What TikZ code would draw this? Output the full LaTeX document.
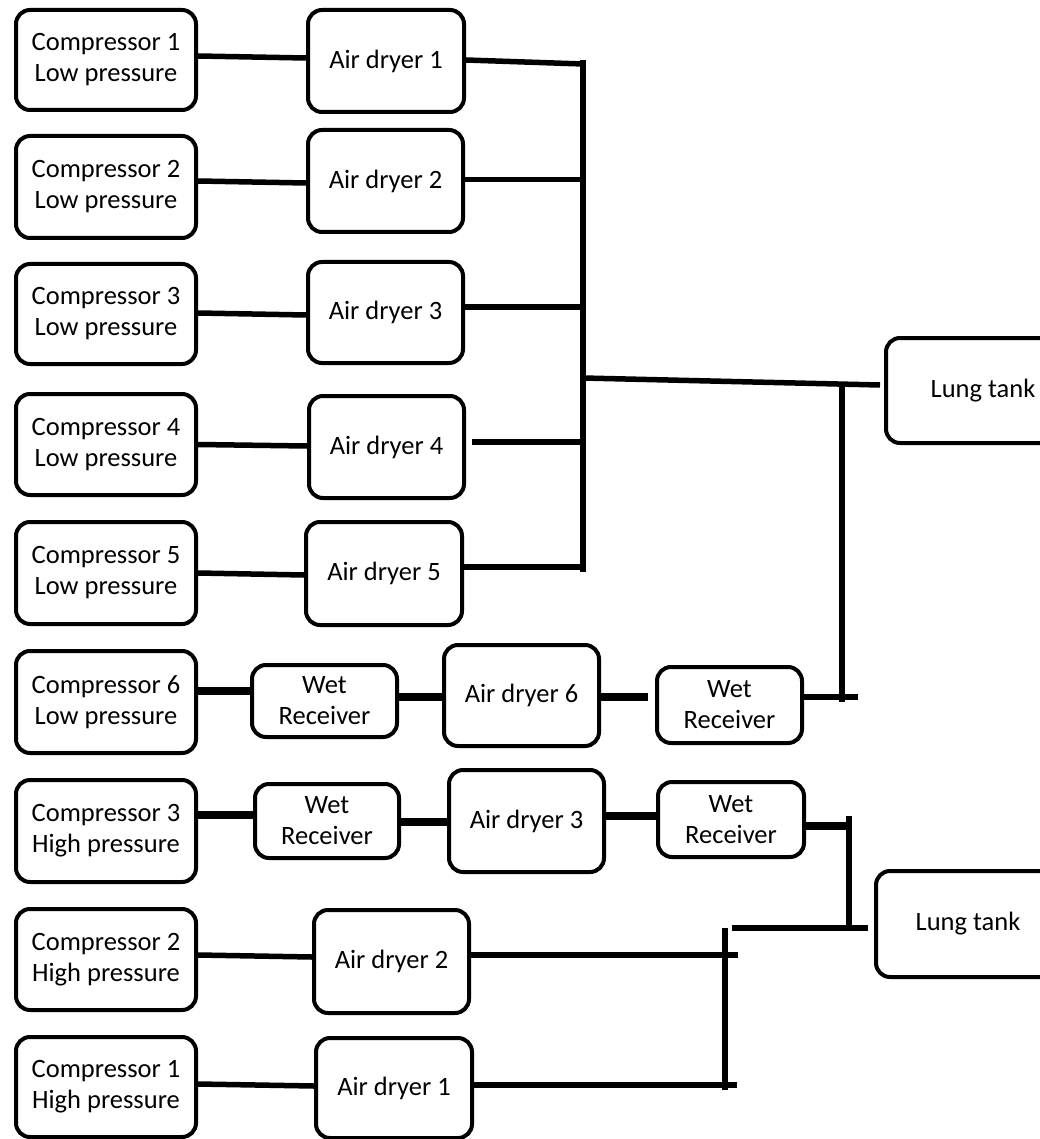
\documentclass[tikz,border=0pt]{standalone}
\usepackage{fontspec}
\setmainfont{Carlito}
\begin{document}
\begin{tikzpicture}[x=1pt,y=-1pt,
  box/.style={draw, line width=4pt, rounded corners=14pt, align=center,
    font=\fontsize{26.5}{31}\selectfont, inner sep=0pt},
  pipe/.style={line width=5.5pt},
  thickpipe/.style={line width=8pt}]
\useasboundingbox (0,0) rectangle (1040,1139);
% compressors
\node[box, minimum width=180pt, minimum height=100pt] (c1) at (106,60) {Compressor 1\\Low pressure};
\node[box, minimum width=180pt, minimum height=102pt] (c2) at (106,187) {Compressor 2\\Low pressure};
\node[box, minimum width=180pt, minimum height=100pt] (c3) at (106,314) {Compressor 3\\Low pressure};
\node[box, minimum width=180pt, minimum height=101pt] (c4) at (106,444.5) {Compressor 4\\Low pressure};
\node[box, minimum width=180pt, minimum height=102pt] (c5) at (106,573) {Compressor 5\\Low pressure};
\node[box, minimum width=180pt, minimum height=102pt] (c6) at (106,702) {Compressor 6\\Low pressure};
\node[box, minimum width=180pt, minimum height=102pt] (ch3) at (106,831) {Compressor 3\\High pressure};
\node[box, minimum width=180pt, minimum height=101pt] (ch2) at (106,959.5) {Compressor 2\\High pressure};
\node[box, minimum width=180pt, minimum height=100pt] (ch1) at (106,1087) {Compressor 1\\High pressure};
% dryers
\node[box, minimum width=156pt, minimum height=102pt] (ad1) at (386,61) {Air dryer 1};
\node[box, minimum width=155pt, minimum height=102pt] (ad2) at (385.5,181) {Air dryer 2};
\node[box, minimum width=155pt, minimum height=101pt] (ad3) at (385.5,312.5) {Air dryer 3};
\node[box, minimum width=155pt, minimum height=102pt] (ad4) at (386.5,447) {Air dryer 4};
\node[box, minimum width=156pt, minimum height=103pt] (ad5) at (384,573.5) {Air dryer 5};
\node[box, minimum width=155pt, minimum height=101pt] (ad6) at (521.5,695.5) {Air dryer 6};
\node[box, minimum width=155pt, minimum height=102pt] (ad7) at (526.5,821) {Air dryer 3};
\node[box, minimum width=155pt, minimum height=103pt] (ad8) at (391.5,961.5) {Air dryer 2};
\node[box, minimum width=156pt, minimum height=100pt] (ad9) at (394,1088) {Air dryer 1};
% wet receivers
\node[box, minimum width=145pt, minimum height=72pt] (wr1) at (324.5,701) {Wet\\Receiver};
\node[box, minimum width=145pt, minimum height=76pt] (wr2) at (729.5,705) {Wet\\Receiver};
\node[box, minimum width=144pt, minimum height=74pt] (wr3) at (327,821) {Wet\\Receiver};
\node[box, minimum width=146pt, minimum height=75pt] (wr4) at (731,819.5) {Wet\\Receiver};
% lung tanks
\node[box, minimum width=194pt, minimum height=105pt] (lt1) at (983,390.5) {Lung tank};
\node[box, minimum width=184pt, minimum height=106pt] (lt2) at (968,924) {Lung tank};
% junction coordinates
\coordinate (bT) at (583,60);
\coordinate (bB) at (583,572);
\coordinate (bM) at (583,378);
\coordinate (j1) at (842,384);
\coordinate (j2) at (842,702);
\coordinate (e2) at (858,697);
\coordinate (hT) at (849,816);
\coordinate (hB) at (849,930);
\coordinate (e4) at (852,826);
\coordinate (k1) at (732,928);
\coordinate (vT) at (725,928);
\coordinate (vB) at (725,1090);
\coordinate (e8) at (738,955);
\coordinate (e9) at (737,1085);
% compressor -> dryer
\draw[pipe] ([yshift=4pt]c1.east) -- ([yshift=3pt]ad1.west);
\draw[pipe] ([yshift=6pt]c2.east) -- ([yshift=-2pt]ad2.west);
\draw[pipe] ([yshift=1pt]c3.east) -- ([yshift=-2.5pt]ad3.west);
\draw[pipe] (c4.east) -- ([yshift=1pt]ad4.west);
\draw[pipe] (c5.east) -- ([yshift=-1.5pt]ad5.west);
\draw[pipe] ([yshift=4.5pt]ch2.east) -- ([yshift=4.5pt]ad8.west);
\draw[pipe] ([yshift=3pt]ch1.east) -- ([yshift=2pt]ad9.west);
% low pressure bus
\draw[pipe] (bT) -- (bB);
\draw[pipe] ([yshift=1pt]ad1.east) -- ([yshift=-3pt]ad1.east -| bT);
\draw[pipe] ([yshift=1.5pt]ad2.east) -- ([yshift=1.5pt]ad2.east -| bT);
\draw[pipe] ([yshift=5.5pt]ad3.east) -- ([yshift=5.5pt]ad3.east -| bT);
\draw[pipe] ([xshift=6pt,yshift=5pt]ad4.east) -- ([yshift=5pt]ad4.east -| bT);
\draw[pipe] ([yshift=6.5pt]ad5.east) -- ([yshift=6.5pt]ad5.east -| bT);
\draw[pipe] (bM) -- ([xshift=-4pt,yshift=5.5pt]lt1.west);
\draw[pipe] (j1) -- (j2);
% row 6
\draw[thickpipe] ([yshift=11pt]c6.east) -- ([yshift=10pt]wr1.west);
\draw[thickpipe] ([yshift=4pt]wr1.east) -- ([yshift=-1.5pt]ad6.west);
\draw[thickpipe] ([yshift=-1.5pt]ad6.east) -- ([xshift=-7pt,yshift=8pt]wr2.west);
\draw[pipe] ([yshift=8pt]wr2.east) -- (e2);
% high pressure row 3
\draw[thickpipe] ([yshift=16pt]ch3.east) -- ([yshift=6pt]wr3.west);
\draw[thickpipe] ([yshift=-1pt]wr3.east) -- ([yshift=-1pt]ad7.west);
\draw[thickpipe] ([yshift=5pt]ad7.east) -- ([yshift=3.5pt]wr4.west);
\draw[thickpipe] ([yshift=-6.5pt]wr4.east) -- (e4);
\draw[pipe] (hT) -- (hB);
\draw[pipe] (k1) -- ([xshift=-6pt,yshift=-4pt]lt2.west);
\draw[pipe] (vT) -- (vB);
\draw[pipe] ([yshift=6.5pt]ad8.east) -- (e8);
\draw[pipe] ([yshift=3pt]ad9.east) -- (e9);
\end{tikzpicture}
\end{document}
